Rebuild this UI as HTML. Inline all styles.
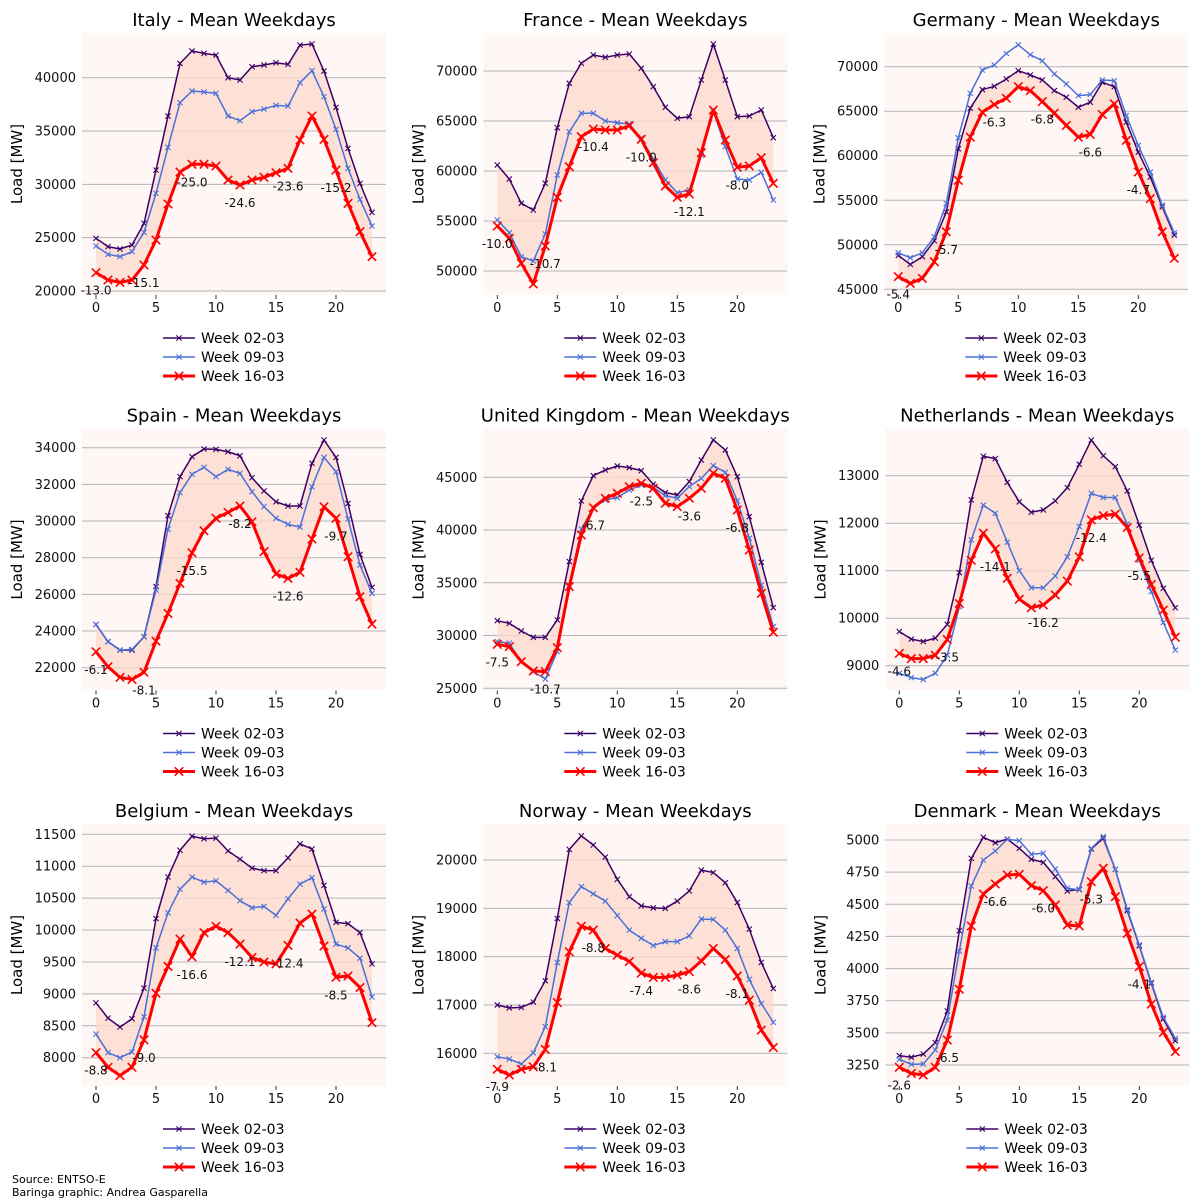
<!DOCTYPE html>
<html><head><meta charset="utf-8"><style>
html,body{margin:0;padding:0;background:#fff;}
svg{display:block;font-family:"DejaVu Sans","Liberation Sans",sans-serif;}
</style></head><body>
<svg id="chart" width="1200" height="1200" viewBox="0 0 1200 1200" xmlns="http://www.w3.org/2000/svg">
<text x="12" y="1183" font-size="11" fill="#000">Source: ENTSO-E</text>
<text x="12" y="1196" font-size="11" fill="#000">Baringa graphic: Andrea Gasparella</text>
</svg>
<script>
const hours = [0,1,2,3,4,5,6,7,8,9,10,11,12,13,14,15,16,17,18,19,20,21,22,23];
const xTicks = [0,5,10,15,20];
const seriesNames = ["Week 02-03","Week 09-03","Week 16-03"];
const annHours = [0,4,8,12,16,20];

const italy02 = [24940,24160,23940,24310,26340,31340,36400,41340,42500,42280,42120,40000,39780,41030,41190,41400,41250,43060,43160,40620,37220,33370,30090,27370];
const italy09 = [24220,23440,23220,23690,25500,29160,33470,37660,38750,38660,38530,36400,35970,36810,37060,37410,37340,39530,40660,38220,35160,31500,28590,26090];
const italy16 = [21720,21030,20810,21030,22440,24780,28160,31160,31880,31880,31720,30410,29940,30410,30660,31090,31500,34160,36410,34220,31340,28220,25560,23220];
const italyAnn = ["-13.0","-15.1","-25.0","-24.6","-23.6","-15.2"];

const france02 = [60600,59200,56770,56100,58770,64330,68770,70770,71600,71370,71600,71700,70270,68430,66370,65270,65430,69100,72700,69100,65430,65500,66100,63330];
const france09 = [55100,53830,51430,51000,53700,59600,63930,65770,65770,65000,64830,64700,63270,61170,59100,57830,58100,61600,66000,62430,59200,59100,59870,57100];
const france16 = [54500,53270,50770,48700,52500,57370,60430,63430,64200,64100,64100,64530,63170,60830,58500,57370,57700,61830,66100,63100,60370,60500,61330,58770];
const franceAnn = ["-10.0","-10.7","-10.4","-10.0","-12.1","-8.0"];

const germany02 = [48800,47800,48660,50450,53690,60780,65340,67430,67800,68620,69550,69070,68510,67310,66570,65450,66010,68250,67760,63770,60410,57610,54250,51080];
const germany09 = [49100,48540,49100,50900,54630,62010,67010,69630,70190,71490,72460,71340,70670,69180,68060,66750,66870,68510,68430,64510,61160,58170,54440,51340];
const germany16 = [46420,45670,46230,48100,51460,57240,62090,64890,65750,66460,67760,67310,66080,64780,63400,62090,62390,64630,65820,61720,58170,55190,51460,48470];
const germanyAnn = ["-5.4","-5.7","-6.3","-6.8","-6.6","-4.7"];

const spain02 = [24360,23420,22960,22960,23690,26420,30290,32420,33510,33930,33910,33780,33560,32360,31640,31050,30820,30820,33150,34420,33470,30960,28180,26380];
const spain09 = [24360,23420,22960,23000,23690,26240,29560,31550,32550,32930,32420,32820,32600,31600,30780,30150,29820,29670,31870,33470,32690,30110,27600,26050];
const spain16 = [22870,22050,21470,21360,21750,23450,24960,26600,28270,29470,30150,30470,30820,29960,28330,27110,26870,27200,29020,30780,30150,28050,25870,24380];
const spainAnn = ["-6.1","-8.1","-15.5","-8.2","-12.6","-9.7"];

const uk02 = [31410,31160,30430,29830,29830,31480,37010,42760,45160,45690,46070,45920,45630,44340,43550,43330,44590,46640,48540,47590,45060,41270,36940,32650];
const uk09 = [29420,29270,27530,26580,25880,28480,34790,40100,42120,42850,43070,43800,44270,44050,43260,43010,44120,44900,46110,45470,42760,39220,34790,30850];
const uk16 = [29170,28950,27530,26640,26580,28850,34640,39530,42120,43010,43480,44120,44430,43960,42540,42220,43010,43960,45380,44900,41900,38110,34000,30310];
const ukAnn = ["-7.5","-10.7","-6.7","-2.5","-3.6","-6.8"];

const nl02 = [9720,9560,9510,9580,9870,10960,12490,13410,13360,12860,12450,12230,12280,12470,12750,13240,13750,13420,13190,12680,11960,11220,10630,10220];
const nl09 = [8840,8750,8710,8840,9220,10240,11650,12380,12210,11600,11000,10640,10640,10890,11290,11930,12630,12540,12540,11980,11220,10560,9910,9330];
const nl16 = [9260,9150,9150,9220,9550,10310,11220,11790,11460,10840,10400,10220,10280,10490,10780,11290,12070,12160,12190,11910,11270,10710,10170,9600];
const nlAnn = ["-4.6","-3.5","-14.1","-16.2","-12.4","-5.5"];

const belgium02 = [8860,8620,8480,8610,9090,10180,10830,11250,11470,11430,11440,11240,11110,10970,10930,10930,11130,11350,11270,10700,10120,10100,9960,9470];
const belgium09 = [8370,8080,8000,8090,8640,9720,10270,10640,10830,10750,10770,10620,10460,10350,10370,10230,10490,10720,10820,10330,9780,9720,9560,8950];
const belgium16 = [8080,7850,7720,7850,8280,9010,9430,9860,9580,9960,10060,9960,9780,9570,9500,9470,9760,10110,10250,9750,9260,9280,9100,8550];
const belgiumAnn = ["-8.8","-9.0","-16.6","-12.1","-12.4","-8.5"];

const norway02 = [17000,16940,16950,17060,17500,18790,20220,20500,20310,20060,19600,19240,19050,19010,19000,19150,19360,19790,19740,19530,19120,18570,17880,17340];
const norway09 = [15930,15880,15780,16010,16550,17880,19120,19450,19300,19150,18850,18550,18380,18230,18310,18310,18430,18780,18770,18550,18170,17530,17030,16640];
const norway16 = [15670,15550,15670,15720,16080,17050,18100,18630,18550,18170,18030,17900,17660,17570,17570,17620,17690,17910,18170,17940,17600,17100,16480,16120];
const norwayAnn = ["-7.9","-8.1","-8.8","-7.4","-8.6","-8.1"];

const denmark02 = [3323,3310,3335,3424,3670,4295,4857,5021,4979,5007,4935,4850,4826,4715,4603,4616,4930,5013,4772,4450,4176,3885,3608,3439];
const denmark09 = [3294,3255,3258,3367,3600,4137,4642,4844,4914,5005,4995,4889,4897,4775,4625,4612,4935,5026,4772,4460,4183,3893,3621,3457];
const denmark16 = [3232,3185,3172,3232,3444,3839,4331,4580,4658,4728,4733,4645,4606,4494,4339,4331,4676,4780,4559,4274,4015,3724,3504,3354];
const denmarkAnn = ["-2.6","-6.5","-6.6","-6.0","-5.3","-4.1"];

const italyTicks = [20000,25000,30000,35000,40000];
const franceTicks = [50000,55000,60000,65000,70000];
const germanyTicks = [45000,50000,55000,60000,65000,70000];
const spainTicks = [22000,24000,26000,28000,30000,32000,34000];
const ukTicks = [25000,30000,35000,40000,45000];
const nlTicks = [9000,10000,11000,12000,13000];
const belgiumTicks = [8000,8500,9000,9500,10000,10500,11000,11500];
const norwayTicks = [16000,17000,18000,19000,20000];
const denmarkTicks = [3250,3500,3750,4000,4250,4500,4750,5000];

const panels = [
 {key:"italy", title:"Italy - Mean Weekdays", s:[italy02,italy09,italy16], ann:italyAnn, ticks:italyTicks, hx:96, row:0, va:20000, pa:291, vb:40000, pb:77.7},
 {key:"france", title:"France - Mean Weekdays", s:[france02,france09,france16], ann:franceAnn, ticks:franceTicks, hx:497.3, row:0, va:50000, pa:271, vb:70000, pb:71},
 {key:"germany", title:"Germany - Mean Weekdays", s:[germany02,germany09,germany16], ann:germanyAnn, ticks:germanyTicks, hx:898.3, row:0, va:45000, pa:289.3, vb:70000, pb:66.7},
 {key:"spain", title:"Spain - Mean Weekdays", s:[spain02,spain09,spain16], ann:spainAnn, ticks:spainTicks, hx:96, row:1, va:22000, pa:667.7, vb:34000, pb:447.7},
 {key:"uk", title:"United Kingdom - Mean Weekdays", s:[uk02,uk09,uk16], ann:ukAnn, ticks:ukTicks, hx:497.3, row:1, va:25000, pa:688.3, vb:45000, pb:477.3},
 {key:"netherlands", title:"Netherlands - Mean Weekdays", s:[nl02,nl09,nl16], ann:nlAnn, ticks:nlTicks, hx:899.3, row:1, va:9000, pa:665.7, vb:13000, pb:475.7},
 {key:"belgium", title:"Belgium - Mean Weekdays", s:[belgium02,belgium09,belgium16], ann:belgiumAnn, ticks:belgiumTicks, hx:96, row:2, va:8000, pa:1057.7, vb:11500, pb:834.3},
 {key:"norway", title:"Norway - Mean Weekdays", s:[norway02,norway09,norway16], ann:norwayAnn, ticks:norwayTicks, hx:497.3, row:2, va:16000, pa:1053.3, vb:20000, pb:860},
 {key:"denmark", title:"Denmark - Mean Weekdays", s:[denmark02,denmark09,denmark16], ann:denmarkAnn, ticks:denmarkTicks, hx:899.3, row:2, va:3250, pa:1065, vb:5000, pb:840}
];

const colors = ["#3b0066","#4a70d8","#ff0000"];
const widths = [1.5,1.5,3];
const msz = [2.6,2.6,4.2];
const NS = "http://www.w3.org/2000/svg";
const svg = document.getElementById("chart");
function mk(tag, attrs, parent){
  const e = document.createElementNS(NS, tag);
  for (const k in attrs) e.setAttribute(k, attrs[k]);
  (parent||svg).appendChild(e);
  return e;
}
panels.forEach(p=>{
  const oy = p.row*395.5;
  const g = mk("g",{});
  
  
  const xs = h => p.hx + h*12;
  const ys = v => p.pa + (v - p.va)*(p.pb - p.pa)/(p.vb - p.va);
  const left = p.hx - 14, right = p.hx + 23*12 + 14;
  const top = 33 + oy, bottom = 295 + oy;
  const bg = mk("rect",{x:left,y:top,width:right-left,height:bottom-top,fill:"#fff7f6"},g);
  
  
  p.ticks.forEach(t=>{
    const y = ys(t);
    const gl = mk("line",{x1:left,x2:right,y1:y,y2:y,stroke:"#b4b4b4","stroke-width":1},g);
    
    
    const tl = mk("text",{x:left-6,y:y+4.5,"text-anchor":"end","font-size":13,fill:"#111"},g);
    tl.textContent = t;
    
    
  });
  xTicks.forEach(t=>{
    const x = xs(t);
    mk("line",{x1:x,x2:x,y1:bottom,y2:bottom+4,stroke:"#333","stroke-width":1},g);
    const tl = mk("text",{x:x,y:bottom+17,"text-anchor":"middle","font-size":13,fill:"#111"},g);
    tl.textContent = t;
    
    
  });
  let pts = hours.map(h=>xs(h)+","+ys(p.s[0][h]));
  pts = pts.concat(hours.slice().reverse().map(h=>xs(h)+","+ys(p.s[2][h])));
  const area = mk("polygon",{points:pts.join(" "),fill:"#fcd9ce","fill-opacity":0.8},g);
  
  
  [0,1,2].forEach(i=>{
    const sg = mk("g",{},g);
    
    
    mk("polyline",{points:hours.map(h=>xs(h)+","+ys(p.s[i][h])).join(" "),fill:"none",stroke:colors[i],"stroke-width":widths[i],"stroke-linejoin":"round"},sg);
    const m = msz[i];
    let d = "";
    hours.forEach(h=>{
      const x = xs(h), y = ys(p.s[i][h]);
      d += `M${x-m},${y-m}L${x+m},${y+m}M${x-m},${y+m}L${x+m},${y-m}`;
    });
    mk("path",{d:d,stroke:colors[i],"stroke-width":i==2?1.6:1.1,fill:"none"},sg);
  });
  annHours.forEach((h,k)=>{
    const a = mk("text",{x:xs(h),y:ys(p.s[2][h])+22,"text-anchor":"middle","font-size":12,fill:"#111"},g);
    a.textContent = p.ann[k];
    
    
  });
  const tt = mk("text",{x:p.hx+138,y:26+oy,"text-anchor":"middle","font-size":18,fill:"#000"},g);
  tt.textContent = p.title;
  
  
  const yx = p.hx - 74, yy = 164 + oy;
  const yt = mk("text",{x:yx,y:yy,"text-anchor":"middle","font-size":15,fill:"#000",transform:`rotate(-90 ${yx} ${yy})`},g);
  yt.textContent = "Load [MW]";
  
  
  const lg = mk("g",{},g);
  
  
  [0,1,2].forEach(i=>{
    const ly = 338 + oy + i*19;
    const lx = p.hx + 67;
    const ent = mk("g",{},lg);
    
    
    mk("line",{x1:lx,x2:lx+32,y1:ly,y2:ly,stroke:colors[i],"stroke-width":widths[i]},ent);
    const m = msz[i], cx = lx+16;
    mk("path",{d:`M${cx-m},${ly-m}L${cx+m},${ly+m}M${cx-m},${ly+m}L${cx+m},${ly-m}`,stroke:colors[i],"stroke-width":i==2?1.6:1.1},ent);
    const lt = mk("text",{x:lx+38,y:ly+5,"font-size":14,fill:"#000"},ent);
    lt.textContent = seriesNames[i];
  });
});
</script>
</body></html>
